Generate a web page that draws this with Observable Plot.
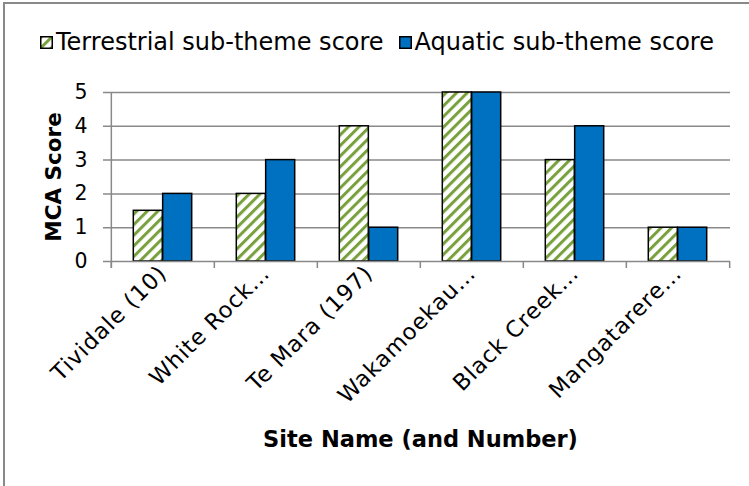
<!DOCTYPE html>
<html><head><meta charset="utf-8">
<script src="https://cdn.jsdelivr.net/npm/d3@7"></script>
<script src="https://cdn.jsdelivr.net/npm/@observablehq/plot@0.6"></script>
<style>
body{margin:0;background:#fff;font-family:"DejaVu Sans",sans-serif;}
#wrap{position:relative;width:749px;height:486px;overflow:hidden;background:#fff;}
#frame{position:absolute;left:3px;top:2px;width:800px;height:600px;border-left:2px solid #898989;border-top:2px solid #898989;pointer-events:none;}
#legend{height:70px;display:flex;align-items:center;padding-left:40px;padding-top:14px;box-sizing:border-box;font-size:24px;color:#000;white-space:nowrap;}
#legend .item{display:flex;align-items:center;}
#legend .item + .item{margin-left:15px;}
#legend svg{display:block;margin-right:3px;}
#chart svg{display:block;}
#chart g[aria-label="x-axis tick label"] text{letter-spacing:0.9px;}
</style></head>
<body>
<svg width="0" height="0" style="position:absolute">
  <defs>
    <pattern id="hatch" patternUnits="userSpaceOnUse" width="7.5" height="7.5" patternTransform="rotate(45)">
      <rect width="7.5" height="7.5" fill="#fff"/>
      <rect width="3" height="7.5" fill="#78a03c"/>
    </pattern>
  </defs>
</svg>
<div id="wrap">
  <div id="legend"></div>
  <div id="chart"></div>
  <div id="frame"></div>
</div>
<script>
const sites = ["Tividale (10)", "White Rock…", "Te Mara (197)", "Wakamoekau…", "Black Creek…", "Mangatarere…"];
const terrestrial = [1.5, 2, 4, 5, 3, 1];
const aquatic = [2, 3, 1, 5, 4, 1];
const yTicks = [0, 1, 2, 3, 4, 5];
const seriesNames = ["Terrestrial sub-theme score", "Aquatic sub-theme score"];
const seriesFills = ["url(#hatch)", "#0070c0"];
const yTitle = "MCA Score";
const xTitle = "Site Name (and Number)";

const rows = sites.map((s, i) => ({site: s, terrestrial: terrestrial[i], aquatic: aquatic[i]}));

// legend
const legend = document.getElementById("legend");
seriesNames.forEach((name, i) => {
  const item = document.createElement("div");
  item.className = "item";
  item.innerHTML = `<svg width="13" height="13"><rect x="0.75" y="0.75" width="11.5" height="11.5" fill="${seriesFills[i]}" stroke="#000" stroke-width="1.5"/></svg><span>${name}</span>`;
  legend.appendChild(item);
});

const W = 749, H = 416, mL = 110, mR = 19, mT = 22, mB = 225;
const bw = (W - mL - mR) / sites.length;
const outer = 22.3;
const barW = (bw - 2 * outer) / 2;
const grid = "#898989";

const chart = Plot.plot({
  width: W, height: H,
  marginLeft: mL, marginRight: mR, marginTop: mT, marginBottom: mB,
  style: {fontFamily: "DejaVu Sans", fontSize: "20px", color: "#000", background: "#fff"},
  x: {type: "band", domain: sites, padding: 0},
  y: {domain: [0, 5]},
  marks: [
    Plot.ruleY(yTicks.slice(1), {y: d => d, stroke: grid, strokeWidth: 1.5, insetLeft: -7}),
    Plot.barY(rows, {x: "site", y: "terrestrial", fill: seriesFills[0], stroke: "#000", strokeWidth: 1.5, insetLeft: outer, insetRight: outer + barW}),
    Plot.barY(rows, {x: "site", y: "aquatic", fill: seriesFills[1], stroke: "#000", strokeWidth: 1.5, insetLeft: outer + barW, insetRight: outer}),
    Plot.ruleY([0], {y: d => d, stroke: grid, strokeWidth: 1.5, insetLeft: -7}),
    Plot.ruleX([sites[0]], {x: d => d, dx: -bw / 2, y1: 5, y2: 0, stroke: grid, strokeWidth: 1.5, insetBottom: -7}),
    Plot.ruleX(sites, {x: d => d, dx: -bw / 2, y1: 0, y2: 0, stroke: grid, strokeWidth: 1.5, insetBottom: -7}),
    Plot.ruleX([sites[sites.length - 1]], {x: d => d, dx: bw / 2, y1: 0, y2: 0, stroke: grid, strokeWidth: 1.5, insetBottom: -7}),
    Plot.axisY({ticks: yTicks, tickSize: 0, tickPadding: 23, fontSize: 20.5, label: null, tickFormat: d => String(d)}),
    Plot.axisX({tickRotate: -45, tickSize: 0, tickPadding: 8, fontSize: 22.5, label: null}),
    Plot.text([yTitle], {text: d => d, frameAnchor: "left", dx: 53.5 - mL, rotate: -90, textAnchor: "middle", lineAnchor: "middle", fontSize: 21.5, fontWeight: "bold"}),
    Plot.text([xTitle], {text: d => d, frameAnchor: "bottom", dy: 178, textAnchor: "middle", lineAnchor: "middle", fontSize: 22.5, fontWeight: "bold"})
  ]
});
document.getElementById("chart").appendChild(chart);
</script>
</body></html>
